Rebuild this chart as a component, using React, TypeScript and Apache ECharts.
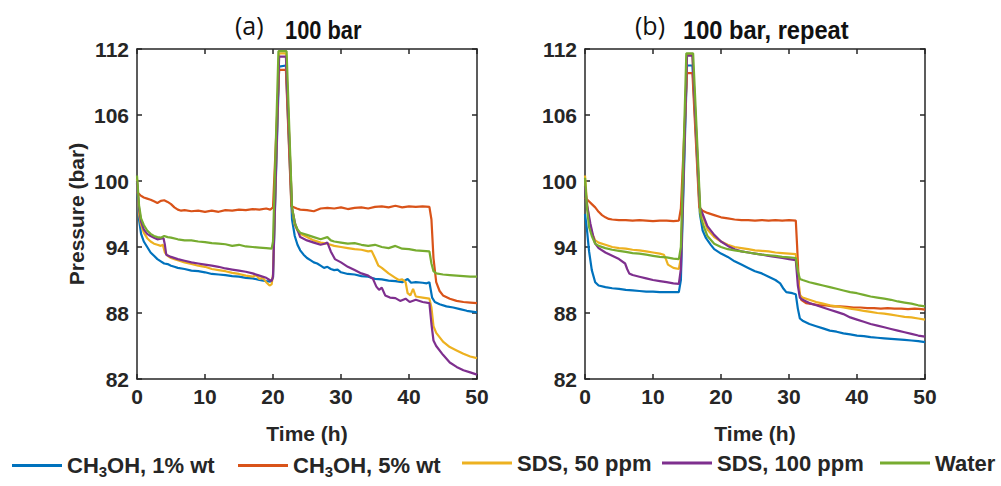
import React, { useEffect, useRef } from "react";
import * as echarts from "echarts";

const COLORS = ["#0072BD", "#D95319", "#EDB120", "#7E2F8E", "#77AC30"];
const NAMES = ["CH3OH, 1% wt", "CH3OH, 5% wt", "SDS, 50 ppm", "SDS, 100 ppm", "Water"];
const Y_TICKS = [82, 88, 94, 100, 106, 112];
const X_TICKS_MAX = 50;

// Panel (a): 100 bar
const a_ch3oh1 = [[0,99.8],[0.3,96.5],[0.6,95.2],[1,94.5],[1.5,94.0],[2,93.5],[2.5,93.2],[3,92.9],[3.5,92.7],[4,92.5],[4.5,92.45],[5,92.3],[5.5,92.2],[6,92.1],[7,92.0],[8,91.85],[9,91.8],[10,91.7],[11,91.55],[12,91.5],[13,91.45],[14,91.35],[15,91.3],[16,91.2],[17,91.15],[18,91.0],[19,90.9],[19.6,90.85],[20.0,91.2],[20.9,110.4],[21.9,110.5],[22.8,96.5],[23.2,95.0],[23.6,94.2],[24,93.7],[24.5,93.3],[25,93.0],[25.5,92.8],[26,92.6],[26.5,92.5],[27,92.3],[27.5,92.1],[28,92.2],[28.5,92.0],[29,91.9],[29.5,91.95],[30,91.7],[31,91.55],[32,91.5],[33,91.35],[34,91.3],[35,91.1],[36,91.05],[37,90.95],[38,90.9],[39,90.8],[39.8,91.1],[40.3,90.75],[41,90.8],[42,90.75],[42.6,90.7],[43,90.8],[43.4,89.4],[43.8,89.0],[44.5,88.8],[45.5,88.6],[46.5,88.5],[47.5,88.35],[48.5,88.2],[49.5,88.1],[50,88.05]];
const a_ch3oh5 = [[0,99.0],[0.5,98.7],[1,98.5],[1.5,98.4],[2,98.3],[2.5,98.15],[3,98.0],[3.5,98.2],[4,98.25],[4.5,98.1],[5,97.9],[5.5,97.6],[6,97.4],[6.5,97.3],[7,97.35],[8,97.25],[9,97.3],[10,97.2],[11,97.3],[12,97.2],[13,97.35],[14,97.3],[15,97.4],[16,97.35],[17,97.45],[18,97.4],[19,97.5],[19.6,97.4],[20.0,97.6],[20.9,110.1],[21.9,110.1],[22.7,97.7],[23.5,97.5],[24,97.4],[25,97.35],[26,97.25],[27,97.5],[28,97.55],[29,97.5],[30,97.6],[31,97.45],[32,97.55],[33,97.6],[34,97.5],[35,97.65],[36,97.7],[37,97.6],[38,97.75],[39,97.6],[40,97.7],[41,97.65],[42,97.7],[43,97.65],[43.3,96.5],[43.6,93.0],[44.0,90.8],[44.5,90.0],[45,89.6],[46,89.3],[47,89.1],[48,89.0],[49,88.95],[50,88.9]];
const a_sds50 = [[0,100.2],[0.3,97.0],[0.6,96.0],[1,95.3],[1.5,94.8],[2,94.5],[2.5,94.3],[3,94.2],[3.5,94.1],[3.8,94.2],[4.1,93.5],[4.5,93.2],[5,93.0],[5.5,92.9],[6,92.8],[7,92.6],[8,92.45],[9,92.3],[10,92.2],[11,92.0],[12,91.9],[13,91.8],[14,91.65],[15,91.55],[16,91.4],[17,91.3],[17.5,91.45],[18,91.1],[18.5,91.2],[19,90.8],[19.5,90.5],[19.8,90.6],[20.0,91.5],[20.9,111.6],[21.9,111.6],[22.8,97.5],[23.2,96.0],[23.6,95.5],[24,95.2],[25,94.9],[26,94.6],[27,94.4],[28,94.3],[29,94.1],[30,94.0],[31,93.9],[32,93.8],[33,93.75],[34,93.6],[34.5,93.65],[35,93.0],[35.5,92.3],[36,92.1],[37,91.6],[38,91.2],[38.5,91.0],[39,91.05],[39.5,90.8],[39.8,89.8],[40.2,89.6],[40.6,90.2],[41,89.5],[42,89.4],[43,89.3],[43.3,88.5],[43.6,86.8],[44,86.2],[45,85.4],[46,84.9],[47,84.6],[48,84.3],[49,84.05],[50,83.9]];
const a_sds100 = [[0,100.0],[0.3,97.5],[0.6,96.3],[1,95.6],[1.5,95.2],[2,95.0],[2.5,94.85],[3,94.7],[3.5,94.75],[3.9,94.8],[4.1,94.2],[4.3,93.3],[5,93.1],[6,92.9],[7,92.75],[8,92.6],[9,92.5],[10,92.4],[11,92.3],[12,92.2],[13,92.05],[14,91.95],[15,91.85],[16,91.75],[17,91.6],[18,91.4],[19,91.2],[19.5,91.0],[19.8,90.9],[20.0,91.3],[20.9,111.3],[21.9,111.3],[22.8,97.5],[23.3,96.0],[23.7,95.4],[24,94.9],[25,94.6],[26,94.4],[27,94.2],[27.6,94.3],[28,94.4],[28.5,93.6],[29.1,92.9],[30,92.6],[31,92.2],[32,91.9],[33,91.6],[34,91.4],[34.7,91.1],[35.2,90.4],[35.6,90.1],[36,90.3],[36.5,89.6],[37.2,89.4],[38,89.35],[38.7,89.1],[39.5,89.3],[40.1,89.0],[41,89.2],[42,89.0],[43,88.9],[43.3,87.0],[43.6,85.5],[44,85.0],[45,84.2],[46,83.5],[47,83.1],[48,82.8],[49,82.6],[50,82.4]];
const a_water = [[0,100.5],[0.3,97.8],[0.6,96.6],[1,96.0],[1.5,95.5],[2,95.2],[2.5,95.0],[3,94.9],[3.5,94.85],[4,95.0],[4.5,94.9],[5,94.85],[6,94.7],[7,94.6],[8,94.6],[9,94.5],[10,94.45],[11,94.35],[12,94.3],[13,94.25],[14,94.1],[15,94.2],[16,94.05],[17,94.0],[18,93.95],[19,93.9],[19.8,93.85],[20.0,94.5],[20.8,111.8],[22.0,111.8],[22.8,97.6],[23.2,96.2],[23.6,95.6],[24,95.3],[25,95.1],[26,94.9],[27,94.7],[28,94.9],[28.5,94.6],[29,94.5],[30,94.4],[31,94.3],[32,94.35],[33,94.2],[34,94.1],[35,94.2],[36,94.0],[37,93.9],[38,94.1],[39,93.85],[40,93.8],[41,93.7],[42,93.65],[43,93.6],[43.3,92.5],[43.6,91.8],[44,91.6],[45,91.5],[46,91.45],[47,91.4],[48,91.35],[49,91.3],[50,91.3]];

// Panel (b): 100 bar, repeat
const b_ch3oh1 = [[0,97.0],[0.3,95.5],[0.6,93.6],[1,91.9],[1.5,90.8],[2,90.5],[3,90.35],[4,90.25],[5,90.2],[6,90.1],[7,90.05],[8,90.0],[9,89.95],[10,89.95],[11,89.9],[12,89.9],[13,89.9],[13.8,89.9],[14.1,91.0],[15.0,110.5],[15.8,110.5],[16.9,97.0],[17.3,95.5],[17.8,94.8],[18.5,94.2],[19,93.8],[20,93.4],[21,93.1],[22,92.7],[23,92.4],[24,92.1],[25,91.8],[26,91.6],[27,91.3],[28,91.0],[28.7,90.7],[29.2,90.2],[29.6,89.9],[30.5,89.8],[31.0,89.7],[31.3,88.4],[31.6,87.5],[32,87.3],[33,87.0],[34,86.8],[35,86.6],[36,86.4],[37,86.3],[38,86.15],[39,86.05],[40,85.95],[41,85.9],[42,85.8],[43,85.75],[44,85.7],[45,85.65],[46,85.6],[47,85.55],[48,85.5],[49,85.45],[50,85.35]];
const b_ch3oh5 = [[0,98.5],[0.5,98.2],[1,97.9],[1.5,97.6],[2,97.2],[2.5,96.9],[3,96.7],[3.5,96.55],[4,96.5],[5,96.45],[6,96.45],[7,96.4],[8,96.45],[9,96.4],[10,96.35],[11,96.4],[12,96.4],[13,96.35],[13.8,96.4],[14.1,97.5],[15.0,109.8],[15.8,109.8],[16.8,97.6],[17.3,97.3],[18,97.1],[19,96.9],[20,96.7],[21,96.6],[22,96.5],[23,96.45],[24,96.45],[25,96.4],[26,96.45],[27,96.4],[28,96.45],[29,96.4],[30,96.45],[31,96.4],[31.2,94.0],[31.5,90.0],[31.8,89.2],[32.5,88.9],[33.5,88.8],[34.5,88.7],[35.5,88.7],[36.5,88.6],[37.5,88.6],[38.5,88.55],[39.5,88.5],[40.5,88.5],[41.5,88.45],[42.5,88.45],[43.5,88.4],[44.5,88.45],[45.5,88.4],[46.5,88.4],[47.5,88.35],[48.5,88.4],[49.5,88.35],[50,88.3]];
const b_sds50 = [[0,100.5],[0.3,98.0],[0.6,96.5],[1,95.3],[1.5,94.6],[2,94.4],[3,94.2],[4,94.0],[5,93.9],[6,93.85],[7,93.75],[8,93.7],[9,93.6],[10,93.5],[11,93.4],[11.6,93.3],[11.9,92.9],[12.2,92.4],[13,92.1],[13.8,92.0],[14.1,93.0],[15.0,111.5],[15.8,111.5],[16.9,97.2],[17.3,96.8],[18,95.6],[19,94.9],[20,94.5],[21,94.2],[22,94.0],[23,93.9],[24,93.8],[25,93.7],[26,93.65],[27,93.6],[28,93.5],[29,93.45],[30,93.4],[31,93.35],[31.3,91.5],[31.6,89.6],[32,89.4],[33,89.2],[34,89.0],[35,88.85],[36,88.7],[37,88.6],[38,88.5],[39,88.4],[40,88.3],[41,88.2],[42,88.1],[43,88.0],[44,87.95],[45,87.85],[46,87.75],[47,87.65],[48,87.6],[49,87.5],[50,87.4]];
const b_sds100 = [[0,99.5],[0.3,97.8],[0.8,96.1],[1.2,95.0],[1.5,94.3],[2,93.9],[3,93.5],[4,93.2],[5,92.9],[5.9,92.5],[6.2,92.0],[6.5,91.6],[7,91.45],[8,91.3],[9,91.15],[10,91.0],[11,90.9],[12,90.8],[13,90.7],[13.8,90.65],[14.1,92.0],[15.0,111.4],[15.8,111.4],[16.9,97.6],[17.3,97.0],[18,95.9],[19,95.1],[20,94.5],[21,94.1],[22,93.8],[23,93.6],[24,93.5],[25,93.4],[26,93.3],[27,93.2],[28,93.1],[29,93.0],[30,92.9],[31,92.8],[31.3,90.5],[31.6,89.4],[32,89.2],[33,88.9],[34,88.7],[35,88.5],[36,88.3],[37,88.1],[38,87.9],[39,87.6],[40,87.4],[41,87.2],[42,87.0],[43,86.85],[44,86.7],[45,86.55],[46,86.4],[47,86.25],[48,86.1],[49,85.95],[50,85.85]];
const b_water = [[0,100.3],[0.3,97.5],[0.6,95.8],[1,95.0],[1.5,94.3],[2,94.1],[3,93.9],[4,93.75],[5,93.65],[6,93.55],[7,93.45],[8,93.4],[9,93.3],[10,93.2],[11,93.1],[12,93.05],[13,92.95],[13.8,92.9],[14.1,94.0],[14.9,111.6],[15.9,111.6],[17.0,96.8],[17.5,95.8],[18,95.0],[19,94.3],[20,94.0],[21,93.8],[22,93.7],[23,93.6],[24,93.5],[25,93.4],[26,93.3],[27,93.25],[28,93.2],[29,93.1],[30,93.05],[31,93.0],[31.3,91.8],[31.6,91.1],[32,91.0],[33,90.8],[34,90.65],[35,90.5],[36,90.35],[37,90.2],[38,90.05],[39,89.9],[40,89.8],[41,89.65],[42,89.5],[43,89.4],[44,89.3],[45,89.2],[46,89.05],[47,88.95],[48,88.85],[49,88.7],[50,88.6]];

const PANEL_A = [a_ch3oh1, a_ch3oh5, a_sds50, a_sds100, a_water];
const PANEL_B = [b_ch3oh1, b_ch3oh5, b_sds50, b_sds100, b_water];

const FONT = "'Liberation Sans', Arial, sans-serif";
const INK = "#262626";

function xAxes(gridIndex: number, withName: boolean) {
  const line = { show: true, onZero: false, lineStyle: { color: INK, width: 1.5 } };
  const tick = { show: true, inside: true, length: 5, lineStyle: { color: INK, width: 1.5 } };
  return [
    {
      type: "value", gridIndex, min: 0, max: X_TICKS_MAX, interval: 10, position: "bottom",
      axisLine: line, axisTick: tick, splitLine: { show: false },
      axisLabel: { fontSize: 21, fontWeight: "bold", color: INK, fontFamily: FONT, margin: 7 },
      name: withName ? "Time (h)" : "", nameLocation: "middle", nameGap: 44,
      nameTextStyle: { fontSize: 21, fontWeight: "bold", color: INK, fontFamily: FONT },
    },
    {
      type: "value", gridIndex, min: 0, max: X_TICKS_MAX, interval: 10, position: "top",
      axisLine: line, axisTick: tick, splitLine: { show: false }, axisLabel: { show: false },
    },
  ];
}

function yAxes(gridIndex: number, withName: boolean) {
  const line = { show: true, onZero: false, lineStyle: { color: INK, width: 1.5 } };
  const tick = { show: true, inside: true, length: 5, customValues: Y_TICKS, lineStyle: { color: INK, width: 1.5 } };
  return [
    {
      type: "value", gridIndex, min: 82, max: 112, position: "left",
      axisLine: line, axisTick: tick, splitLine: { show: false },
      axisLabel: { customValues: Y_TICKS, fontSize: 21, fontWeight: "bold", color: INK, fontFamily: FONT, margin: 8 },
      name: withName ? "Pressure (bar)" : "", nameLocation: "middle", nameGap: 50, nameRotate: 90,
      nameTextStyle: { fontSize: 21, fontWeight: "bold", color: INK, fontFamily: FONT },
    },
    {
      type: "value", gridIndex, min: 82, max: 112, position: "right",
      axisLine: line, axisTick: tick, splitLine: { show: false }, axisLabel: { show: false },
    },
  ];
}

function legendFor(i: number, left: number) {
  return {
    show: true, selectedMode: false, data: [NAMES[i]], left, top: 452, orient: "horizontal",
    icon: "rect", itemWidth: 50, itemHeight: 3, itemGap: 0, padding: 0,
    formatter: (n: string) => (n.startsWith("CH3OH") ? `{n|CH}{s|3}{n|${n.slice(3)}}` : `{n|${n}}`),
    textStyle: {
      color: INK,
      rich: {
        n: { fontSize: 22, fontWeight: "bold", fontFamily: FONT, color: INK, lineHeight: 27 },
        s: { fontSize: 15, fontWeight: "bold", fontFamily: FONT, color: INK, lineHeight: 27, verticalAlign: "bottom", padding: [12, 0, 0, 0] },
      },
    },
  };
}

export default function App() {
  const ref = useRef<HTMLDivElement>(null);
  useEffect(() => {
    if (!ref.current) return;
    const chart = echarts.init(ref.current, null, { renderer: "svg" });
    const series: any[] = [];
    [PANEL_A, PANEL_B].forEach((panel, p) => {
      panel.forEach((data, i) => {
        series.push({
          type: "line", name: NAMES[i], data, xAxisIndex: p * 2, yAxisIndex: p * 2,
          showSymbol: false, symbol: "none", color: COLORS[i],
          lineStyle: { width: 2.2, color: COLORS[i] }, clip: true,
        });
      });
    });
    chart.setOption({
      animation: false,
      backgroundColor: "#ffffff",
      grid: [
        { left: 137, top: 49, width: 340, height: 330 },
        { left: 585, top: 49, width: 340, height: 330 },
      ],
      xAxis: [...xAxes(0, true), ...xAxes(1, true)],
      yAxis: [...yAxes(0, true), ...yAxes(1, false)],
      legend: [legendFor(0, 12), legendFor(1, 238), legendFor(2, 462), legendFor(3, 662), legendFor(4, 880)],
      graphic: [
        { type: "text", x: 235, y: 12, style: { text: "(a)", font: "normal 25px 'Open Sans', sans-serif", fill: "#111" } },
        { type: "text", x: 285, y: 17, scaleX: 0.84, style: { text: "100 bar", font: `bold 26px ${FONT}`, fill: "#111" } },
        { type: "text", x: 635, y: 12, style: { text: "(b)", font: "normal 25px 'Open Sans', sans-serif", fill: "#111" } },
        { type: "text", x: 683, y: 17, scaleX: 0.91, style: { text: "100 bar, repeat", font: `bold 26px ${FONT}`, fill: "#111" } },
      ],
      series,
    });
    return () => chart.dispose();
  }, []);
  return <div ref={ref} style={{ position: "fixed", left: 0, top: 0, width: 1001, height: 486, background: "#fff" }} />;
}
